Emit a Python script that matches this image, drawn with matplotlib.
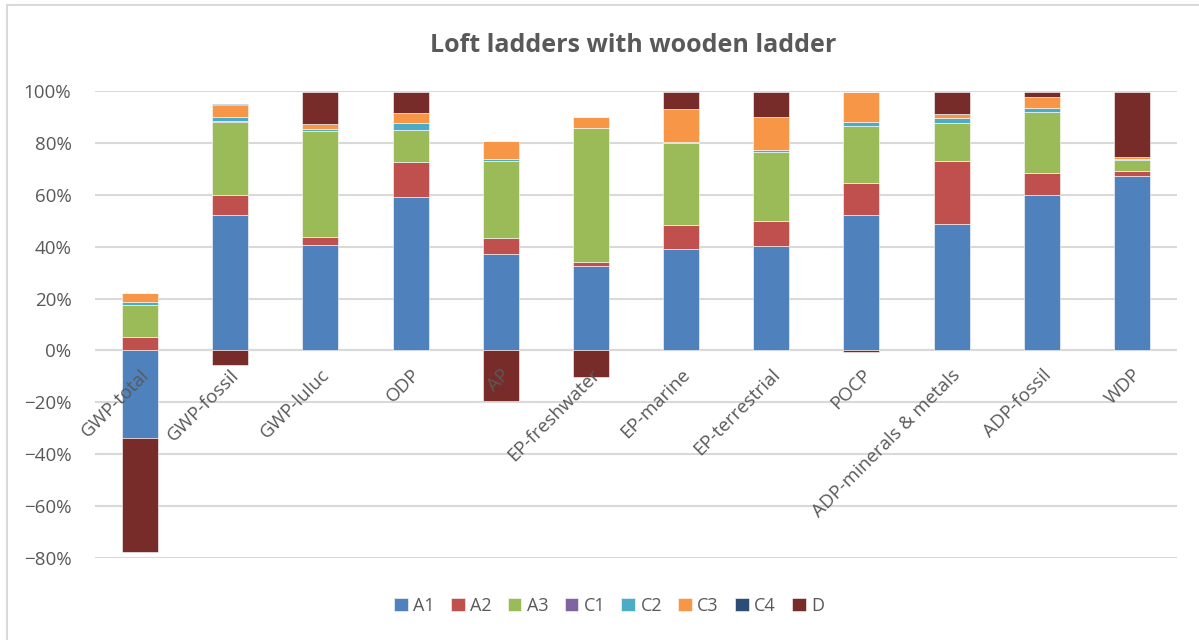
import numpy as np
import matplotlib.pyplot as plt
from matplotlib.patches import Rectangle
from matplotlib.ticker import PercentFormatter

plt.rcParams['font.family'] = ['Open Sans', 'DejaVu Sans']

categories = ["GWP-total", "GWP-fossil", "GWP-luluc", "ODP", "AP", "EP-freshwater",
              "EP-marine", "EP-terrestrial", "POCP", "ADP-minerals & metals",
              "ADP-fossil", "WDP"]

# share of each module, percent
A1 = [-33.8, 52.1, 40.5, 59.0, 37.1, 32.4, 39.2, 40.4, 52.1, 48.6, 60.0, 67.1]
A2 = [5.3, 8.0, 3.4, 13.5, 6.3, 1.5, 9.3, 9.6, 12.4, 24.3, 8.5, 2.2]
A3 = [12.1, 28.1, 40.8, 12.5, 29.7, 51.7, 31.3, 26.6, 21.9, 14.6, 23.3, 4.0]
C1 = [0.0, 0.1, 0.0, 0.0, 0.0, 0.0, 0.0, 0.0, 0.1, 0.0, 0.0, 0.0]
C2 = [1.3, 1.5, 0.5, 2.8, 0.5, 0.2, 0.7, 0.8, 1.6, 2.2, 1.6, 0.6]
C3 = [3.5, 4.9, 2.1, 3.8, 7.1, 4.2, 12.7, 12.7, 11.4, 1.6, 4.4, 0.5]
C4 = [0.0, 0.1, 0.0, 0.0, 0.0, 0.0, 0.0, 0.0, 0.2, 0.0, 0.0, 0.0]
D = [-43.8, -5.5, 12.4, 8.1, -19.5, -10.2, 6.5, 9.6, -0.6, 8.4, 1.9, 25.3]

series = [("A1", A1, "#4F81BD"), ("A2", A2, "#C0504D"), ("A3", A3, "#9BBB59"),
          ("C1", C1, "#8064A2"), ("C2", C2, "#4BACC6"), ("C3", C3, "#F79646"),
          ("C4", C4, "#2C4D75"), ("D", D, "#772C2A")]

fig = plt.figure(figsize=(11.99, 6.4), dpi=100)
ax = fig.add_axes([95 / 1199, 1 - 558 / 640, (1177 - 95) / 1199, (558 - 91) / 640])

x = np.arange(len(categories))
pos = np.zeros(len(categories))
neg = np.zeros(len(categories))
for name, vals, col in series:
    v = np.array(vals, dtype=float)
    base = np.where(v >= 0, pos, neg)
    ax.bar(x, v, 0.4, bottom=base, color=col, label=name,
           edgecolor='white', linewidth=0.4, zorder=3)
    pos += np.where(v >= 0, v, 0)
    neg += np.where(v < 0, v, 0)

ax.set_xlim(-0.5, len(categories) - 0.5)
ax.set_ylim(-80, 100)
ax.set_yticks(np.arange(-80, 101, 20))
ax.yaxis.set_major_formatter(PercentFormatter(decimals=0))
ax.grid(axis='y', color='#D9D9D9', linewidth=1.5, zorder=0)
ax.axhline(0, color='#D9D9D9', linewidth=1.5, zorder=1)
for s in ax.spines.values():
    s.set_visible(False)
ax.tick_params(axis='y', length=0, labelsize=13.5, labelcolor='#595959', pad=17)
ax.set_xticks([])

for i, c in enumerate(categories):
    ax.annotate(c, (i, 0), xytext=(0, -11), textcoords='offset points',
                rotation=45, ha='right', va='top', rotation_mode='anchor',
                fontsize=13.5, color='#595959', zorder=4)

fig.text(633 / 1199, 1 - 45 / 640, "Loft ladders with wooden ladder", ha='center', va='center',
         fontsize=18, fontweight='bold', color='#595959')

handles, labels = ax.get_legend_handles_labels()
fig.legend(handles, labels, loc='center', bbox_to_anchor=(0.508, 1 - 606 / 640),
           ncol=8, frameon=False, fontsize=13, labelcolor='#595959',
           handlelength=0.75, handleheight=0.75, handletextpad=0.3, columnspacing=0.9)

fig.patches.append(Rectangle((7 / 1199, -0.01), 1.1, 1 - 5 / 640 + 0.01,
                             transform=fig.transFigure, fill=False,
                             edgecolor='#D9D9D9', linewidth=1.5))

fig.savefig("out.png", dpi=100)
